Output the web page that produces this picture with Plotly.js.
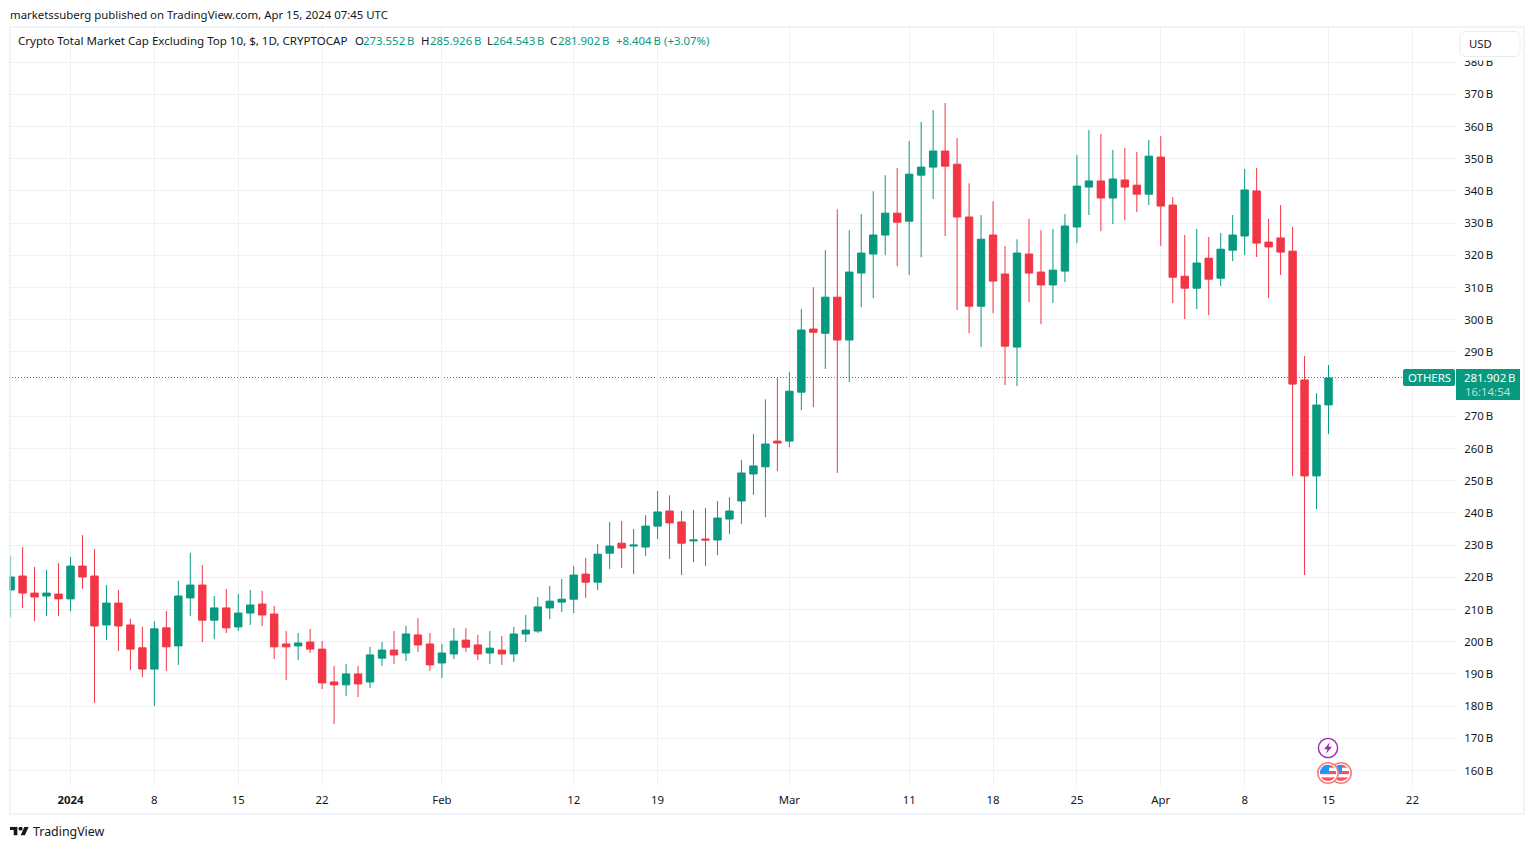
<!DOCTYPE html>
<html>
<head>
<meta charset="utf-8">
<script src="https://cdn.plot.ly/plotly-3.0.1.min.js"></script>
<style>html,body{margin:0;padding:0;background:#fff}#chart{width:1534px;height:849px}</style>
</head>
<body>
<div id="chart"></div>
<script>
const startDate = "2023-12-27";
const opens = [216.1,220.4,215.1,214.2,214.8,
213.3,223.5,220.4,205.2,212.0,205.2,198.1,191.5,204.3,198.7,
213.6,217.6,206.7,210.5,204.6,208.9,211.7,208.6,199.3,198.7,
199.9,197.7,187.5,186.6,190.0,187.5,194.9,197.4,196.5,202.1,
199.3,193.4,196.2,200.5,199.0,196.5,197.4,196.2,202.4,203.3,
210.5,212.3,213.2,221.0,218.5,227.5,230.6,229.7,229.4,235.9,
240.6,237.2,231.3,231.9,231.6,238.1,243.7,252.1,254.3,262.3,
262.3,277.5,297.1,295.8,307.0,293.7,314.5,320.4,326.3,333.1,
330.6,344.9,347.4,352.4,348.3,331.9,304.2,326.3,314.2,291.5,
320.4,314.8,310.8,315.1,328.8,341.2,343.1,337.8,343.4,341.8,
339.0,350.5,335.6,313.5,309.8,319.1,312.9,321.6,326.0,340.0,
324.1,325.4,321.3,281.3,251.5,273.552];
const highs = [226.6,229.4,223.2,222.3,224.4,
226.3,233.1,228.8,217.6,216.1,207.1,204.6,206.4,209.5,218.9,
227.6,223.8,214.2,216.4,214.8,216.1,215.8,211.1,203.3,202.7,
204.0,200.2,192.5,193.1,192.5,198.4,199.9,203.3,204.9,207.3,
202.7,199.3,204.2,204.2,202.1,203.3,201.8,204.6,208.3,213.9,
217.3,219.5,223.5,226.0,230.3,237.2,237.5,235.0,239.3,246.8,
245.5,240.6,240.9,241.5,243.7,244.9,256.4,264.5,275.3,282.2,
283.7,303.3,310.1,321.6,334.3,327.8,332.8,339.9,344.9,347.1,
355.5,361.4,365.1,367.3,356.4,342.4,332.5,336.8,322.9,325.0,
331.3,327.8,328.2,332.8,351.1,358.9,357.7,352.7,353.3,352.1,
355.8,357.0,338.1,326.3,328.2,325.7,326.9,332.5,346.8,347.1,
331.3,335.6,328.8,288.7,277.2,285.926];
const lows = [207.7,210.5,206.4,208.0,208.0,
209.5,216.4,181.0,200.5,197.1,191.2,189.0,180.0,190.9,192.8,
208.0,199.9,200.8,202.7,203.3,205.2,204.9,194.6,188.1,194.3,
196.5,185.3,174.4,183.1,182.8,185.6,192.5,193.1,194.0,196.8,
190.9,188.7,194.6,196.8,194.3,193.1,192.8,193.7,199.9,202.7,
207.0,209.2,208.9,213.6,216.0,222.6,222.9,221.0,226.6,231.9,
225.7,220.7,224.7,223.5,226.9,233.4,236.6,245.6,238.7,253.0,
260.4,271.9,272.9,284.7,252.4,280.6,303.9,306.7,320.1,316.6,
313.9,319.4,337.5,326.0,303.0,295.8,291.5,302.0,279.7,279.4,
305.5,298.6,305.2,311.7,323.8,332.5,327.5,329.7,330.9,333.4,
335.6,322.9,305.2,300.2,303.3,301.4,310.4,318.2,320.1,319.5,
306.7,313.9,251.5,220.7,241.2,264.543];
const closes = [220.1,215.1,213.9,215.1,213.3,
223.5,220.1,204.9,212.0,204.9,197.7,191.5,204.0,198.4,214.2,
217.6,206.7,210.5,204.3,208.9,211.4,208.3,198.4,198.4,199.6,
197.7,187.2,186.6,190.0,186.9,195.9,197.4,195.9,202.4,199.0,
192.8,196.5,200.2,198.3,196.2,198.0,196.2,202.4,203.6,210.8,
212.6,213.2,220.7,218.5,227.2,229.7,229.1,230.0,235.9,240.3,
236.9,230.6,231.6,231.6,238.4,240.6,252.4,254.6,261.4,261.7,
277.8,296.8,296.1,307.0,293.7,314.8,320.7,326.3,333.1,330.3,
345.2,347.4,352.4,347.7,331.9,304.2,325.0,312.0,291.8,320.7,
314.5,310.8,315.4,329.1,341.5,343.1,337.8,343.7,341.2,339.0,
350.8,335.3,313.2,309.8,317.6,312.6,321.9,326.3,340.3,323.8,
322.6,321.0,280.0,251.5,273.5,281.902];

const xTickVals = ["2024-01-01","2024-01-08","2024-01-15","2024-01-22","2024-02-01","2024-02-12","2024-02-19","2024-03-01","2024-03-11","2024-03-18","2024-03-25","2024-04-01","2024-04-08","2024-04-15","2024-04-22"];
const xTickText = ["<b>2024</b>","8","15","22","Feb","12","19","Mar","11","18","25","Apr","8","15","22"];
const yTicks = [160,170,180,190,200,210,220,230,240,250,260,270,290,300,310,320,330,340,350,360,370,380];
const yTickText = yTicks.map(v => v + "\u2009B");

const publishLine = "marketssuberg published on TradingView.com, Apr 15, 2024 07:45 UTC";
const symbolLine = "Crypto Total Market Cap Excluding Top 10, $, 1D, CRYPTOCAP";
const lastPriceLabel = "281.902\u2009B";
const countdown = "16:14:54";

const GREEN = "#089981", RED = "#F23645", INK = "#131722", GRID = "#f0f1f5";
const FONT = "Noto Sans";
const TXT = 11.4;

const dates = opens.map((_, i) => {
  const d = new Date(startDate + "T00:00:00Z");
  d.setUTCDate(d.getUTCDate() + i);
  return d.toISOString().slice(0, 10);
});

const W = 1534, H = 849, PL = 9, PR = 1456, PT = 28, PB = 786;
const px = v => (v - PL) / (PR - PL);
const py = v => (PB - v) / (PB - PT);

function note(x, y, text, opts) {
  opts = opts || {};
  return {xref:"paper", yref:"paper", x:px(x), y:py(y), text:text, showarrow:false,
    xanchor:opts.anchor||"left", yanchor:"middle", borderpad:0, borderwidth:0,
    font:{family:FONT, size:opts.size||TXT, color:opts.color||INK}};
}
function rrect(x0, y0, x1, y1, r) {
  const X = v => px(v), Y = v => py(v);
  const k = r * 0.45;
  return `M${X(x0+r)},${Y(y0)} L${X(x1-r)},${Y(y0)} C${X(x1-k)},${Y(y0)} ${X(x1)},${Y(y0+k)} ${X(x1)},${Y(y0+r)} L${X(x1)},${Y(y1-r)} C${X(x1)},${Y(y1-k)} ${X(x1-k)},${Y(y1)} ${X(x1-r)},${Y(y1)} L${X(x0+r)},${Y(y1)} C${X(x0+k)},${Y(y1)} ${X(x0)},${Y(y1-k)} ${X(x0)},${Y(y1-r)} L${X(x0)},${Y(y0+r)} C${X(x0)},${Y(y0+k)} ${X(x0+k)},${Y(y0)} ${X(x0+r)},${Y(y0)} Z`;
}
function svgUri(s){ return "data:image/svg+xml;utf8," + encodeURIComponent(s); }
function img(svg, x0, y0, x1, y1) {
  return {source:svgUri(svg), xref:"paper", yref:"paper", x:px(x0), y:py(y0),
    sizex:(x1-x0)/(PR-PL), sizey:(y1-y0)/(PB-PT), xanchor:"left", yanchor:"top", sizing:"stretch", layer:"above"};
}
const bolt = `<svg xmlns="http://www.w3.org/2000/svg" width="22" height="22" viewBox="0 0 22 22"><circle cx="11" cy="11" r="9.6" fill="#fff" stroke="#9c27b0" stroke-width="1.4"/><path d="M12.8 5.2 L7 12.2 L10.4 12.2 L9 16.8 L15 9.7 L11.5 9.7 Z" fill="#9c27b0"/></svg>`;
const flag = `<svg xmlns="http://www.w3.org/2000/svg" width="24" height="24" viewBox="0 0 24 24"><defs><clipPath id="c"><circle cx="12" cy="12" r="8.2"/></clipPath></defs><circle cx="12" cy="12" r="10.2" fill="#fff" stroke="#f77c80" stroke-width="1.6"/><g clip-path="url(#c)"><rect x="2" y="2" width="20" height="20" fill="#fff"/><rect x="2" y="3.5" width="20" height="3.2" fill="#f7525f"/><rect x="2" y="10" width="20" height="3.2" fill="#f7525f"/><rect x="2" y="16.4" width="20" height="3.4" fill="#f7525f"/><rect x="2" y="2" width="11" height="10" fill="#2196f3"/></g></svg>`;
const logo = `<svg xmlns="http://www.w3.org/2000/svg" width="36" height="18" viewBox="0 4 36 18"><path fill="${INK}" d="M14 22H7V11H0V4h14v18zM28 22h-8l7.5-18h8L28 22z"/><circle fill="${INK}" cx="20" cy="8" r="4"/></svg>`;

const lastClose = closes[closes.length-1];
const shapes = [
  {type:"line", layer:"below", xref:"paper", yref:"y", x0:0, x1:px(1403), y0:lastClose+0.15, y1:lastClose+0.15, line:{color:GREEN, width:1, dash:"1px,2px"}},
  {type:"rect", xref:"paper", yref:"paper", x0:px(10), x1:px(1524), y0:py(27), y1:py(814), line:{color:"rgba(230,235,247,0.6)", width:2}, fillcolor:"rgba(0,0,0,0)"},
  {type:"rect", xref:"paper", yref:"paper", x0:px(1458), x1:px(1522), y0:py(29), y1:py(60.5), fillcolor:"#fff", line:{width:0}},
  {type:"path", xref:"paper", yref:"paper", path:rrect(1460,31.5,1520,56.5,5), fillcolor:"#fff", line:{color:"#e9ebf0", width:1}},
  {type:"path", xref:"paper", yref:"paper", path:rrect(1403,369,1455,386,2), fillcolor:GREEN, line:{width:0}},
  {type:"rect", xref:"paper", yref:"paper", x0:px(1456), x1:px(1520), y0:py(369), y1:py(400), fillcolor:GREEN, line:{width:0}}
];

const annotations = [
  note(10, 14.5, publishLine),
  note(18, 41, symbolLine, {size:11.55}),
  note(355, 41, "O"), note(362.5, 41, "273.552\u2009B", {color:GREEN}),
  note(421, 41, "H"), note(429.5, 41, "285.926\u2009B", {color:GREEN}),
  note(487, 41, "L"), note(493, 41, "264.543\u2009B", {color:GREEN}),
  note(550, 41, "C"), note(558, 41, "281.902\u2009B", {color:GREEN}),
  note(616, 41, "+8.404\u2009B", {color:GREEN}), note(664, 41, "(+3.07%)", {color:GREEN}),
  note(1480, 44, "USD", {anchor:"center"}),
  note(1429, 377.5, "OTHERS", {anchor:"center", color:"#fff"}),
  note(1489.5, 377.5, lastPriceLabel, {anchor:"center", color:"#fff"}),
  note(1488, 391.5, countdown, {anchor:"center", color:"rgba(255,255,255,0.72)"}),
  note(33, 831.5, "TradingView", {size:12.4})
];

const images = [
  img(bolt, 1317, 737, 1339, 759),
  img(flag, 1329, 761, 1353, 785),
  img(flag, 1316, 761, 1340, 785),
  img(logo, 10, 826.7, 29, 835.5)
];

const trace = {
  type:"candlestick", x:dates, open:opens, high:highs, low:lows, close:closes,
  increasing:{line:{color:GREEN, width:1}, fillcolor:GREEN},
  decreasing:{line:{color:RED, width:1}, fillcolor:RED},
  whiskerwidth:0, hoverinfo:"skip"
};

const layout = {
  width:W, height:H, paper_bgcolor:"#fff", plot_bgcolor:"#fff",
  margin:{l:PL, r:W-PR, t:PT, b:H-PB, pad:0},
  showlegend:false, hovermode:false, dragmode:false, boxgap:0.38, boxgroupgap:0,
  font:{family:FONT, size:TXT, color:INK},
  xaxis:{type:"date", range:["2023-12-26 20:48","2024-04-25 15:22"], tickmode:"array", tickvals:xTickVals, ticktext:xTickText,
    showgrid:true, gridcolor:GRID, gridwidth:1, zeroline:false, showline:false, ticks:"outside", ticklen:3, tickcolor:"rgba(0,0,0,0)",
    rangeslider:{visible:false}, tickfont:{family:FONT, size:TXT, color:INK}, fixedrange:true},
  yaxis:{type:"linear", side:"right", range:[155.19,390.6], tickmode:"array", tickvals:yTicks, ticktext:yTickText,
    showgrid:true, gridcolor:GRID, gridwidth:1, zeroline:false, showline:false, ticks:"outside", ticklen:5, tickcolor:"rgba(0,0,0,0)",
    tickfont:{family:FONT, size:TXT, color:INK}, fixedrange:true},
  shapes:shapes, annotations:annotations, images:images
};
Plotly.newPlot("chart", [trace], layout, {displayModeBar:false, staticPlot:true});
</script>
</body>
</html>
